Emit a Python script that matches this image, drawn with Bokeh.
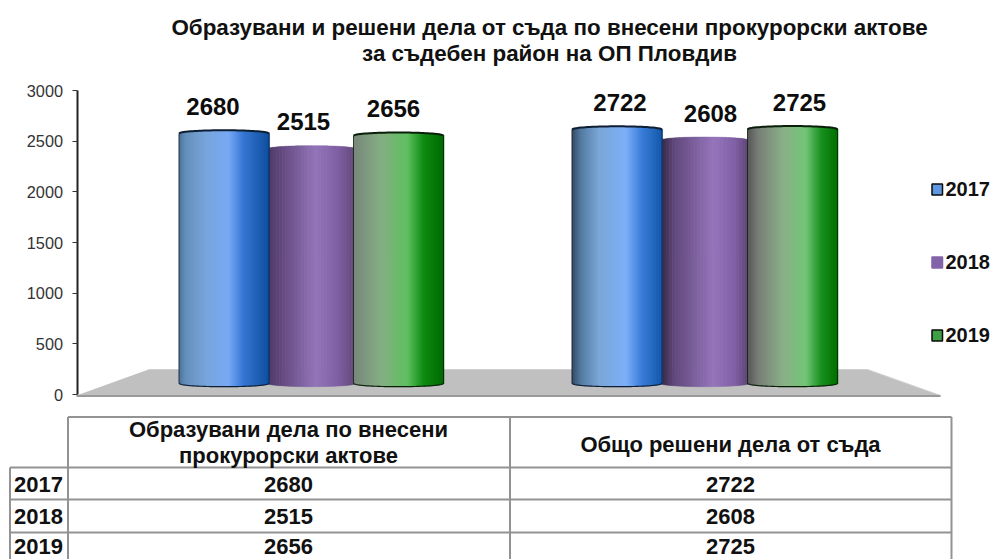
import numpy as np
from bokeh.plotting import figure
from bokeh.models import Range1d, LinearAxis, FixedTicker
from bokeh.core.properties import value
from bokeh.embed import file_html
from bokeh.resources import INLINE

title_lines = ["Образувани и решени дела от съда по внесени прокурорски актове",
               "за съдебен район на ОП Пловдив"]
years = ["2017", "2018", "2019"]
cases = ["Образувани дела по внесени\nпрокурорски актове", "Общо решени дела от съда"]
v2017 = [2680, 2722]
v2018 = [2515, 2608]
v2019 = [2656, 2725]
ticks = [0, 500, 1000, 1500, 2000, 2500, 3000]

FONT = value("Liberation Sans")
series_vals = {"2017": v2017, "2018": v2018, "2019": v2019}

# page-pixel layout
AX_K = 304 / 3000          # axis px per unit
BAR_K = 0.0933             # cylinder px per unit (foreshortened)
AX_ZERO, BAR_ZERO = 394, 383
F_TOP, F_BOTTOM = 0, 559


def ax_y(py):
    return (AX_ZERO - py) / AX_K


p = figure(width=994, height=559, output_backend="svg", toolbar_location=None,
           x_range=Range1d(0, 994), y_range=Range1d(ax_y(F_BOTTOM), ax_y(F_TOP)),
           min_border=0, x_axis_type=None, y_axis_type=None, outline_line_color=None)
p.grid.visible = False
p.extra_y_ranges = {"bars": Range1d((BAR_ZERO - F_BOTTOM) / BAR_K, (BAR_ZERO - F_TOP) / BAR_K)}

axis = LinearAxis(ticker=FixedTicker(ticks=ticks), fixed_location=76.5, bounds=(0, 3000))
axis.axis_line_color = "#222222"
axis.axis_line_width = 2
axis.major_tick_line_color = "#333333"
axis.major_tick_in = 0
axis.major_tick_out = 5
axis.minor_tick_line_color = None
axis.major_label_text_font = "Liberation Sans"
axis.major_label_text_font_size = "16.3px"
axis.major_label_text_color = "#333333"
axis.major_label_standoff = 9
p.add_layout(axis, "left")

# floor
p.patch([76, 148, 867, 940], [ax_y(395), ax_y(369), ax_y(369), ax_y(395)],
        fill_color="#c0c0c0", line_color=None)
p.line([148, 867, 940], [ax_y(369), ax_y(369), ax_y(395)], line_color="#d0d0d0", line_width=1)
p.line([76, 940], [ax_y(395.5), ax_y(395.5)], line_color="#9a9a9a", line_width=2)

# gradient stops (position, colour) per series and group
STOPS = {
    ("2017", 0): [(0, "#4d7299"), (.08, "#6690bb"), (.3, "#78a5dc"), (.55, "#78aaf5"), (.72, "#3576d2"), (1, "#0f4f9f")],
    ("2017", 1): [(0, "#34495f"), (.1, "#547ba3"), (.3, "#7ba6d6"), (.6, "#7cb0fa"), (.78, "#3a7cd8"), (1, "#1259ad")],
    ("2018", 0): [(0, "#4e3a68"), (.15, "#63497e"), (.55, "#9476ba"), (.8, "#7f60a5"), (1, "#634878")],
    ("2018", 1): [(0, "#33263f"), (.15, "#60487c"), (.6, "#9676bb"), (.85, "#8060a6"), (1, "#5d4475")],
    ("2019", 0): [(0, "#78867a"), (.3, "#85ae85"), (.6, "#5fc060"), (.78, "#0e8c12"), (1, "#006a00")],
    ("2019", 1): [(0, "#565656"), (.12, "#787e78"), (.4, "#8ab088"), (.65, "#72c676"), (.82, "#1a8f20"), (1, "#007000")],
}
OUTLINE = {"2017": "#0f1f33", "2018": None, "2019": "#0a1f0a"}
CENTER_X = {"2017": [223.5, 616.5], "2018": [311, 704], "2019": [398, 792]}
LABEL_DX = {"2017": [-11, 3], "2018": [-8, 6], "2019": [-5, 7]}
WIDTH = 90
ELL = 3.2 / BAR_K


def hex2rgb(h):
    return np.array([int(h[i:i + 2], 16) for i in (1, 3, 5)], dtype=float)


def grad(stops, t):
    pos = [s[0] for s in stops]
    rgb = np.array([hex2rgb(s[1]) for s in stops])
    return "#%02x%02x%02x" % tuple(int(round(np.interp(t, pos, rgb[:, k]))) for k in range(3))


N = 60
for year in ["2018", "2017", "2019"]:
    for g, val in enumerate(series_vals[year]):
        cx = CENTER_X[year][g]
        w = WIDTH if year != "2018" else WIDTH - 2
        edges = cx - w / 2 + w * np.arange(N + 1) / N
        t = (np.arange(N) + .5) / N
        dy = ELL * np.sqrt(1 - (2 * t - 1) ** 2)
        colors = [grad(STOPS[(year, g)], x) for x in t]
        p.quad(left=edges[:-1], right=edges[1:] + .6, bottom=-dy, top=val + dy,
               fill_color=colors, line_color=colors, line_width=.3,
               y_range_name="bars")
        oc = OUTLINE[year]
        if oc:
            tt = np.linspace(0, 1, 41)
            dd = ELL * np.sqrt(1 - (2 * tt - 1) ** 2)
            xx = cx - w / 2 + w * tt
            p.line(xx, val + dd, line_color=oc, line_width=2, y_range_name="bars")
            p.line(xx, -dd, line_color=oc, line_width=1.2, y_range_name="bars")
            p.segment([xx[0], xx[-1]], [0, 0], [xx[0], xx[-1]], [val, val],
                      line_color=oc, line_width=.8, y_range_name="bars")
        p.text([cx + LABEL_DX[year][g]], [val], text=[str(val)], text_font=FONT, text_font_style="bold",
               text_font_size="24px", text_color="#0d0d0d", text_align="center", text_baseline="middle",
               y_offset=-27, y_range_name="bars")

# title
p.text([549, 549], [ax_y(27), ax_y(53)], text=title_lines, text_font=FONT, text_font_style="bold",
       text_font_size="22.4px", text_color="#111111", text_align="center", text_baseline="middle")

# legend
LEG_Y = [189, 262, 335]
SWATCH = {"2017": ("#5f97e0", "#0b0b0b"), "2018": ("#8464a8", "#8464a8"), "2019": ("#3f9f45", "#0b0b0b")}
for yr, py in zip(years, LEG_Y):
    p.quad([931.5], [942], [ax_y(py + 5.5)], [ax_y(py - 5.5)], fill_color=SWATCH[yr][0],
           line_color=SWATCH[yr][1], line_width=1.5)
    p.text([945], [ax_y(py - 1)], text=[yr], text_font=FONT, text_font_style="bold", text_font_size="20px",
           text_color="#111111", text_align="left", text_baseline="middle")

# table
GRID = "#939393"
X0, X1, X2, X3 = 9.5, 67.5, 509.5, 951
Y0, Y1, Y2, Y3, Y4 = 416.5, 467, 499, 532, 570
p.segment([X1, X0, X0, X0], [ax_y(Y0), ax_y(Y1), ax_y(Y2), ax_y(Y3)], [X3, X3, X3, X3],
          [ax_y(Y0), ax_y(Y1), ax_y(Y2), ax_y(Y3)], line_color=GRID, line_width=2)
p.segment([X0, X1, X2, X3], [ax_y(Y1), ax_y(Y0), ax_y(Y0), ax_y(Y0)], [X0, X1, X2, X3],
          [ax_y(Y4)] * 4, line_color=GRID, line_width=2)

head = cases[0].split("\n")
p.text([288, 288], [ax_y(429), ax_y(455)], text=head, text_font=FONT, text_font_style="bold", text_font_size="22px",
       text_color="#111111", text_align="center", text_baseline="middle")
p.text([730], [ax_y(444)], text=[cases[1]], text_font=FONT, text_font_style="bold", text_font_size="22px",
       text_color="#111111", text_align="center", text_baseline="middle")
ROW_Y = [483.5, 515.5, 546]
for yr, ry in zip(years, ROW_Y):
    vals = series_vals[yr]
    p.text([38], [ax_y(ry)], text=[yr], text_font=FONT, text_font_style="bold", text_font_size="22px",
           text_color="#111111", text_align="center", text_baseline="middle")
    p.text([288, 730], [ax_y(ry), ax_y(ry)], text=[str(vals[0]), str(vals[1])], text_font=FONT, text_font_style="bold",
           text_font_size="22px", text_color="#111111", text_align="center", text_baseline="middle")

open("out.html", "w").write(file_html(p, INLINE))
